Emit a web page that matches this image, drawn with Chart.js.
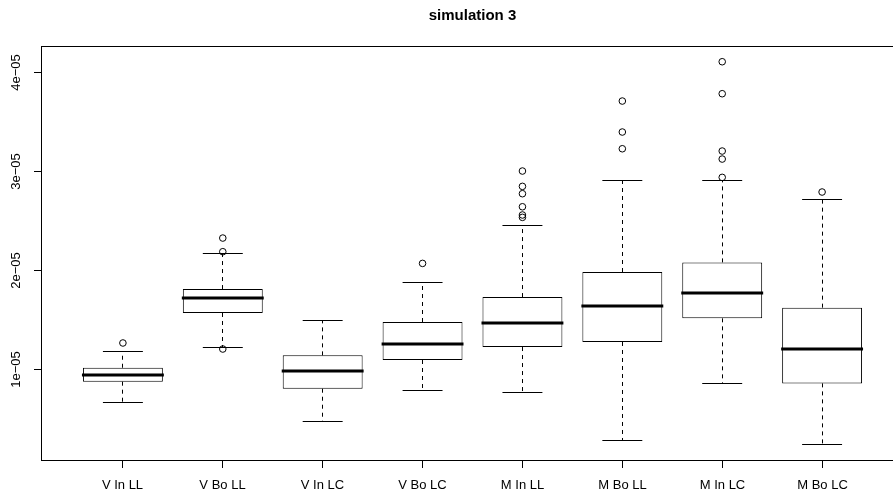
<!DOCTYPE html>
<html>
<head>
<meta charset="utf-8">
<script src="https://cdn.jsdelivr.net/npm/chart.js@4"></script>
<style>
  html, body { margin: 0; padding: 0; background: #fff; overflow: hidden; }
  #wrap { position: relative; width: 920px; height: 500px; }
</style>
</head>
<body>
<div id="wrap"><canvas id="boxChart"></canvas></div>
<script>
// Box plot of 8 settings, values in units of 1e-05
const categories = ['V In LL', 'V Bo LL', 'V In LC', 'V Bo LC', 'M In LL', 'M Bo LL', 'M In LC', 'M Bo LC'];
const lowerWhisker = [0.657, 1.219, 0.468, 0.781, 0.761, 0.273, 0.855, 0.239];
const q1 = [0.872, 1.566, 0.801, 1.091, 1.222, 1.273, 1.512, 0.855];
const medians = [0.943, 1.714, 0.980, 1.249, 1.465, 1.636, 1.764, 1.202];
const q3 = [1.013, 1.808, 1.138, 1.475, 1.727, 1.980, 2.077, 1.620];
const upperWhisker = [1.172, 2.168, 1.495, 1.875, 2.448, 2.905, 2.902, 2.717];
const outliers = [
  [1.263],
  [2.323, 2.185, 1.202],
  [],
  [2.067],
  [3.000, 2.845, 2.771, 2.639, 2.556, 2.532],
  [3.707, 3.394, 3.225],
  [4.104, 3.781, 3.202, 3.121, 2.936],
  [2.788]
];
const yTicks = [1, 2, 3, 4];
const yTickLabels = ['1e\u221205', '2e\u221205', '3e\u221205', '4e\u221205'];
const title = 'simulation 3';

const FONT = "'Liberation Sans', Arial, Helvetica, sans-serif";
const crisp = (v) => Math.floor(v) + 0.5;

// whiskers, staples, medians, frame, axes and title (R base-graphics look)
const rBoxplot = {
  id: 'rBoxplot',
  afterDatasetsDraw(chart) {
    const { ctx, scales: { x, y } } = chart;
    ctx.save();
    ctx.strokeStyle = '#000';
    categories.forEach((c, i) => {
      const cx = x.getPixelForValue(i + 1);
      const halfStaple = (x.getPixelForValue(i + 1.2) - x.getPixelForValue(i + 1));
      const halfBox = (x.getPixelForValue(i + 1.4) - x.getPixelForValue(i + 1));
      // dashed whiskers
      ctx.lineWidth = 1;
      ctx.setLineDash([4, 4]);
      ctx.beginPath();
      ctx.moveTo(crisp(cx), y.getPixelForValue(q3[i]));
      ctx.lineTo(crisp(cx), y.getPixelForValue(upperWhisker[i]));
      ctx.moveTo(crisp(cx), y.getPixelForValue(q1[i]));
      ctx.lineTo(crisp(cx), y.getPixelForValue(lowerWhisker[i]));
      ctx.stroke();
      // staples
      ctx.setLineDash([]);
      ctx.beginPath();
      [upperWhisker[i], lowerWhisker[i]].forEach(v => {
        const py = crisp(y.getPixelForValue(v));
        ctx.moveTo(cx - halfStaple, py);
        ctx.lineTo(cx + halfStaple, py);
      });
      ctx.stroke();
      // median
      ctx.lineWidth = 3;
      ctx.beginPath();
      const my = Math.round(y.getPixelForValue(medians[i]));
      ctx.moveTo(cx - halfBox - 1, my);
      ctx.lineTo(cx + halfBox + 1, my);
      ctx.stroke();
    });
    ctx.restore();
  },
  afterDraw(chart) {
    const { ctx, chartArea: a, scales: { x, y } } = chart;
    ctx.save();
    ctx.strokeStyle = '#000';
    ctx.lineWidth = 1;
    ctx.strokeRect(crisp(a.left), crisp(a.top), Math.round(a.right - a.left), Math.round(a.bottom - a.top));

    ctx.fillStyle = '#000';
    ctx.font = '13px ' + FONT;

    // y axis ticks and rotated labels
    yTicks.forEach((t, i) => {
      const py = crisp(y.getPixelForValue(t));
      ctx.beginPath();
      ctx.moveTo(a.left, py);
      ctx.lineTo(a.left - 7, py);
      ctx.stroke();
      ctx.save();
      ctx.translate(16, py);
      ctx.rotate(-Math.PI / 2);
      ctx.textAlign = 'center';
      ctx.textBaseline = 'middle';
      ctx.fillText(yTickLabels[i], 0, 0);
      ctx.restore();
    });

    // x axis ticks and category labels
    ctx.textAlign = 'center';
    ctx.textBaseline = 'middle';
    categories.forEach((c, i) => {
      const px = crisp(x.getPixelForValue(i + 1));
      ctx.beginPath();
      ctx.moveTo(px, a.bottom);
      ctx.lineTo(px, a.bottom + 8);
      ctx.stroke();
      ctx.fillText(c, px, 485);
    });

    // main title, centred over the plot region
    ctx.font = 'bold 15px ' + FONT;
    ctx.fillText(title, (a.left + a.right) / 2, 16);
    ctx.restore();
  }
};

const outlierPoints = [];
outliers.forEach((list, i) => list.forEach(v => outlierPoints.push({ x: i + 1, y: v })));

new Chart(document.getElementById('boxChart'), {
  type: 'bar',
  data: {
    datasets: [
      {
        label: 'IQR',
        data: categories.map((c, i) => ({ x: i + 1, y: [q1[i], q3[i]] })),
        backgroundColor: '#fff',
        borderColor: '#000',
        borderWidth: 1,
        borderSkipped: false,
        barPercentage: 0.8,
        categoryPercentage: 1
      },
      {
        type: 'scatter',
        label: 'outliers',
        data: outlierPoints,
        pointRadius: 3.3,
        borderWidth: 1,
        borderColor: '#000',
        backgroundColor: 'rgba(0,0,0,0)'
      }
    ]
  },
  options: {
    responsive: true,
    maintainAspectRatio: false,
    animation: false,
    events: [],
    layout: { padding: { left: 41, top: 46, right: 16, bottom: 40 } },
    plugins: { legend: { display: false }, tooltip: { enabled: false } },
    scales: {
      x: {
        type: 'linear',
        display: false,
        offset: false,
        min: 0.18,
        max: 8.82,
        afterBuildTicks: (scale) => { scale.ticks = categories.map((c, i) => ({ value: i + 1 })); }
      },
      y: {
        display: false,
        min: 0.081,
        max: 4.263,
        afterBuildTicks: (scale) => { scale.ticks = yTicks.map(v => ({ value: v })); }
      }
    }
  },
  plugins: [rBoxplot]
});
</script>
</body>
</html>
